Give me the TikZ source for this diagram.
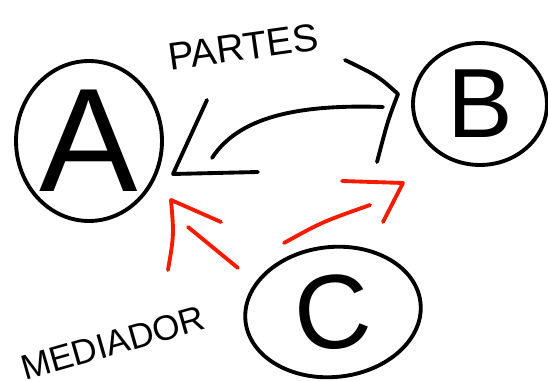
\documentclass[tikz,border=0pt]{standalone}
\usepackage{fontspec}
\setmainfont{Liberation Sans}
\usepackage{xcolor}
\usetikzlibrary{shapes.geometric}
\definecolor{ink}{HTML}{000000}
\definecolor{pen}{HTML}{F51B00}

\begin{document}
\begin{tikzpicture}[x=0.02cm,y=-0.02cm,line width=2.2pt,line cap=round,line join=round,
  party/.style={draw,ink,ellipse,inner sep=0pt},
  hint/.style={pen}]
\useasboundingbox (0,0) rectangle (548,381);
% the three parties
\node[party,minimum width=2.92cm,minimum height=3.2cm,font=\fontsize{84}{84}\selectfont] (A) at (89,141) {A};
\node[party,minimum width=2.68cm,minimum height=2.44cm,font=\fontsize{56}{56}\selectfont] (B) at (480,104) {B};
\node[party,minimum width=3.52cm,minimum height=2.6cm,rotate=6,font=\fontsize{60}{60}\selectfont] (C) at (333,312) {C};
% labels
\node[rotate=8,font=\fontsize{22}{22}\selectfont] (partes) at (243,47) {PARTES};
\node[rotate=16,inner sep=1pt,font=\fontsize{20}{20}\selectfont] (mediador) at (113,343) {MEDIADOR};
% points of the black double arrow
\coordinate (a-up) at (207,100);
\coordinate (a-tip) at (173,174);
\coordinate (a-rt) at (258,172);
\coordinate (ab-from) at (212,158);
\coordinate (ab-to) at (383,107);
\coordinate (b-up) at (345,60);
\coordinate (b-tip) at (398,94);
\coordinate (b-dn) at (377,162);
% points of the red arrows
\coordinate (ca-from) at (238,268);
\coordinate (ca-to) at (188,227);
\coordinate (ca-l) at (168,270);
\coordinate (ca-tip) at (171,200);
\coordinate (ca-r) at (221,222);
\coordinate (cb-from) at (284,243);
\coordinate (cb-to) at (370,205);
\coordinate (cb-l) at (342,181);
\coordinate (cb-tip) at (403,183);
\coordinate (cb-dn) at (383,222);
% A <-> B
\draw (a-up) -- (a-tip) -- (a-rt);
\draw (ab-from) .. controls (238,118) and (295,104) .. (ab-to);
\draw (b-up) .. controls (378,76) .. (b-tip) .. controls (388,120) .. (b-dn);
% C -> A, C -> B
\draw[hint] (ca-l) .. controls (174,235) .. (ca-tip) -- (ca-r);
\draw[hint] (ca-to) -- (ca-from);
\draw[hint] (cb-l) -- (cb-tip) -- (cb-dn);
\draw[hint] (cb-from) .. controls (322,222) .. (cb-to);
\end{tikzpicture}
\end{document}
